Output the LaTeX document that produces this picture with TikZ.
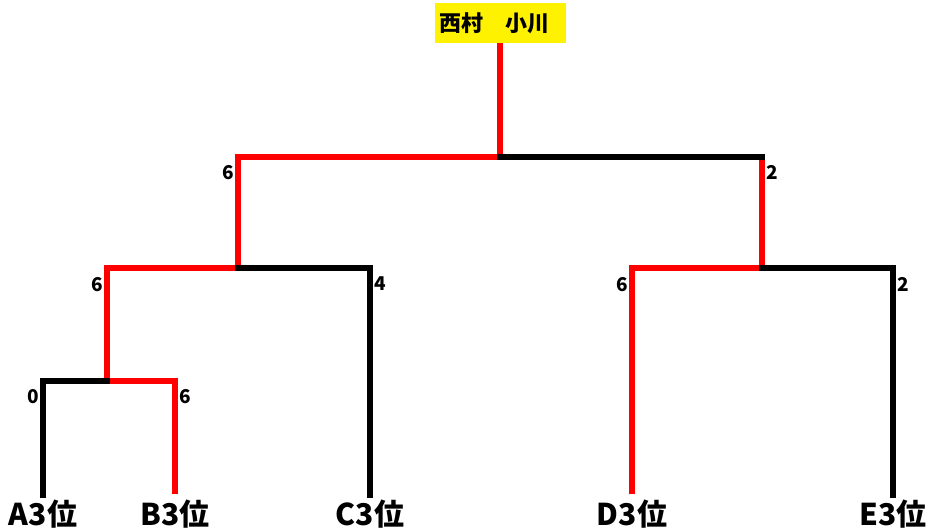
\documentclass[tikz,border=0pt]{standalone}
\usepackage{fontspec}
\setmainfont{Noto Sans CJK JP}
\usetikzlibrary{positioning}

\begin{document}
\begin{tikzpicture}[
            x=1pt, y=-1pt,
            bout/.style={line width=6.5pt, line join=miter},
            won/.style={bout, red},
            lost/.style={bout, black, line cap=rect},
            leaf/.style={anchor=base, inner sep=0pt, outer xsep=0pt, outer ysep=5pt, font=\fontsize{30}{30}\selectfont\bfseries},
            score/.style={inner sep=0pt, font=\fontsize{19}{19}\selectfont\bfseries}
        ]
            \useasboundingbox (0,0) rectangle (930,532);
            \node[fill=yellow, minimum height=40pt, text width=121pt, inner xsep=5pt, inner ysep=0pt, align=left, font=\fontsize{22}{22}\selectfont\bfseries] (top) at (500,23) {西村　小川};
            \node[leaf] (A) at (43,525) {A3位};
            \node[leaf] (B) at (175,525) {B3位};
            \node[leaf] (C) at (370,525) {C3位};
            \node[leaf] (D) at (632,525) {D3位};
            \node[leaf] (E) at (893,525) {E3位};
            \coordinate (f) at (500,157);
            \coordinate (s1) at (238,157);
            \coordinate (s2) at (762,157);
            \coordinate (q1) at (238,268);
            \coordinate (q2) at (762,268);
            \coordinate (r1) at (107,268);
            \coordinate (r3) at (370,268);
            \coordinate (r4) at (632,268);
            \coordinate (r5) at (893,268);
            \coordinate (k1) at (107,381);
            \coordinate (p1) at (43,381);
            \coordinate (p2) at (175,381);
            \node[score, below left=8pt and 4pt of s1] {6};
            \node[score, below right=8pt and 4pt of s2] {2};
            \node[score, below left=9pt and 4pt of r1] {6};
            \node[score, below right=9pt and 4pt of r3] {4};
            \node[score, below left=9pt and 4pt of r4] {6};
            \node[score, below right=9pt and 4pt of r5] {2};
            \node[score, below left=8pt and 4pt of p1] {0};
            \node[score, below right=8pt and 4pt of p2] {6};
            \draw[won] (top) -- (f) -| (q1) -| (k1) -| (B);
            \draw[won] (s2) -- (q2) -| (D);
            \draw[lost] (f) -- (s2);
            \draw[lost] (q1) -| (C);
            \draw[lost] (k1) -| (A);
            \draw[lost] (q2) -| (E);
        \end{tikzpicture}
\end{document}
